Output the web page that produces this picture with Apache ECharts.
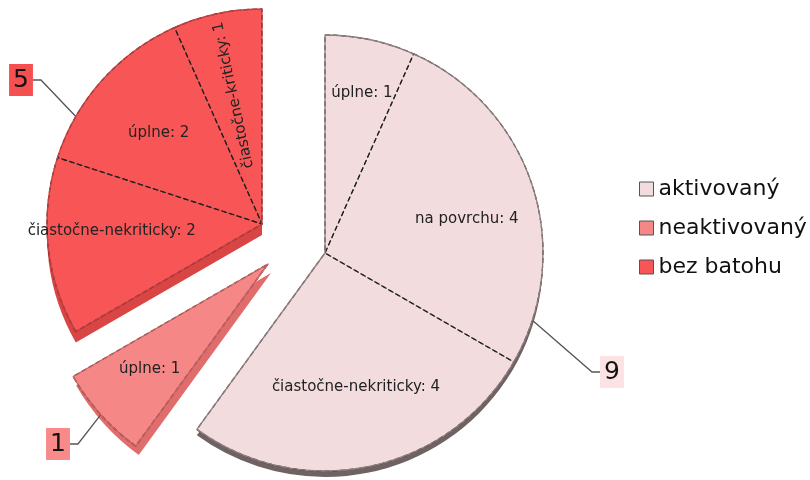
<!DOCTYPE html>
<html>
<head>
<meta charset="utf-8">
<script src="https://cdn.jsdelivr.net/npm/echarts@6/dist/echarts.min.js"></script>
<style>
  html, body { margin: 0; padding: 0; background: #fff; }
  #chart { width: 810px; height: 480px; }
</style>
</head>
<body>
<div id="chart"></div>
<script>
// main slices
const mainNames = ["aktivovaný", "neaktivovaný", "bez batohu"];
const mainValues = [9, 1, 5];
// sub slices, clockwise from 12 o'clock
const subNames = ["úplne", "na povrchu", "čiastočne-nekriticky", "úplne", "čiastočne-nekriticky", "úplne", "čiastočne-kriticky"];
const subValues = [1, 4, 4, 1, 2, 2, 1];
const subParent = [0, 0, 0, 1, 2, 2, 2];

// look
const fillColors = ["#f3dcde", "#f58787", "#f85656"];
const sideColors = ["#6f6262", "#e06c6c", "#d94444"];
const edgeColors = ["#8e7e7f", "#c86464", "#c24040"];
const boxColors = ["#fde2e4", "#f88a8a", "#f55050"];
const centers = [[325, 253], [268, 264], [262, 224]];
const radii = [218, 225, 215];
const sideShift = [[0, 6], [3, 9], [0, 11]];
const valuePos = [[612, 372], [58, 444], [21, 80]];
// small nudges of the inner labels (by sub index, in the label's own frame)
const subLabelNudge = [[6, -14], [0, 12], [0, -12], [-4, 2], [-4, -8], [6, 8], [-15, -1]];
const FONT = "DejaVu Sans";
const NONE = "rgba(0,0,0,0)";

const base = {
  type: "pie",
  startAngle: 90,
  clockwise: true,
  avoidLabelOverlap: false,
  silent: true,
  emphasis: { disabled: true },
  label: { show: false },
  labelLine: { show: false },
};

let series = [];
mainNames.forEach((name, i) => {
  const c = centers[i];
  const R = radii[i];
  // 3d side
  series.push({
    ...base,
    z: 1,
    radius: [0, R],
    center: [c[0] + sideShift[i][0], c[1] + sideShift[i][1]],
    data: mainNames.map((n, k) => ({
      name: n,
      value: mainValues[k],
      itemStyle: { color: k === i ? sideColors[i] : NONE },
    })),
  });
  // top face
  series.push({
    ...base,
    z: 2,
    radius: [0, R],
    center: c,
    data: mainNames.map((n, k) => ({
      name: n,
      value: mainValues[k],
      itemStyle: { color: k === i ? fillColors[i] : NONE },
    })),
  });
  // dashed sub divisions
  series.push({
    ...base,
    z: 3,
    radius: [0, R],
    center: c,
    data: subNames.map((n, k) => ({
      name: n,
      value: subValues[k],
      itemStyle: {
        color: NONE,
        borderColor: subParent[k] === i ? "#222" : NONE,
        borderWidth: 1.2,
        borderType: [5, 3],
      },
    })),
  });
  // outline + value label
  series.push({
    ...base,
    z: 4,
    radius: [0, R],
    center: c,
    labelLayout: {
      x: valuePos[i][0],
      y: valuePos[i][1],
      align: "center",
      verticalAlign: "middle",
    },
    data: mainNames.map((n, k) => ({
      name: n,
      value: mainValues[k],
      itemStyle: {
        color: NONE,
        borderColor: k === i ? edgeColors[i] : NONE,
        borderWidth: 1.3,
      },
      label: {
        show: k === i,
        position: "outside",
        formatter: "{c}",
        fontFamily: FONT,
        fontSize: 25,
        color: "#111",
        backgroundColor: boxColors[i],
        padding: [4, 4, 3, 4],
      },
      labelLine: {
        show: k === i,
        length: 10,
        length2: 8,
        lineStyle: { color: "#555", width: 1.3 },
      },
    })),
  });
  // sub labels
  series.push({
    ...base,
    z: 5,
    radius: [R * 0.34, R],
    center: c,
    labelLayout: function (params) {
      const d = subLabelNudge[params.dataIndex];
      return { dx: d[0], dy: d[1] };
    },
    data: subNames.map((n, k) => ({
      name: n,
      value: subValues[k],
      itemStyle: { color: NONE },
      label: {
        show: subParent[k] === i,
        position: "inside",
        formatter: "{b}: {c}",
        fontFamily: FONT,
        fontSize: 15,
        color: "#222",
        rotate: n === "čiastočne-kriticky" ? 102 : 0,
      },
    })),
  });
});

let chart = echarts.init(document.getElementById("chart"));
let option = {
  animation: false,
  legend: {
    orient: "vertical",
    left: 634,
    top: 172,
    itemWidth: 14,
    itemHeight: 14,
    itemGap: 15,
    icon: "rect",
    selectedMode: false,
    textStyle: { fontFamily: FONT, fontSize: 22, color: "#111", lineHeight: 24 },
    data: mainNames.map((n, k) => ({
      name: n,
      itemStyle: { color: fillColors[k], borderColor: "#555", borderWidth: 1 },
    })),
  },
  series: series,
};
chart.setOption(option);
</script>
</body>
</html>
